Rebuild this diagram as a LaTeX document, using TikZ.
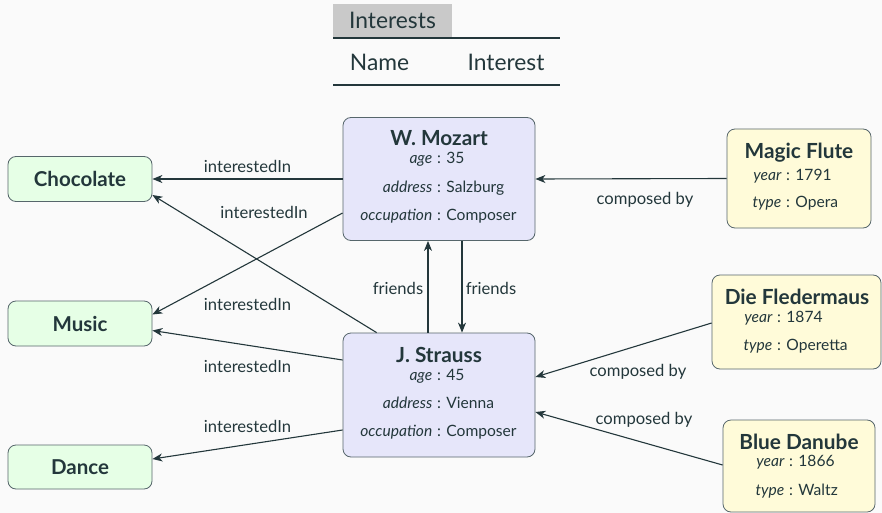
\documentclass[tikz,border=0pt]{standalone}
\usepackage{fontspec}
\setmainfont{Lato}
\usetikzlibrary{arrows.meta,calc}
\definecolor{bg}{HTML}{FAFAFA}
\definecolor{ink}{HTML}{23373B}
\definecolor{edgecol}{HTML}{23373B}
\definecolor{framecol}{HTML}{56666B}
\definecolor{personfill}{HTML}{E6E6FA}
\definecolor{thingfill}{HTML}{E6FFE6}
\definecolor{songfill}{HTML}{FFFBD9}
\definecolor{headfill}{HTML}{C9C9C9}
\newcommand\attrline[5]{%
  \node[attrtxt, anchor=base east] (#1k) at (#2-6.5,#3) {\itshape #4};
  \node[attrtxt, anchor=base west] (#1v) at (#2-2,#3) {: #5};}
\begin{document}
\begin{tikzpicture}[x=1pt,y=-1pt,
  box/.style={draw=framecol, line width=0.8pt, rounded corners=8pt, inner sep=0pt},
  person/.style={box, fill=personfill, minimum width=192pt, minimum height=123pt},
  thing/.style={box, fill=thingfill, minimum width=144pt, minimum height=45pt,
    font=\fontsize{20.5}{24}\selectfont\bfseries, text=ink, text height=15pt, text depth=0pt},
  song/.style={box, fill=songfill},
  titletxt/.style={font=\fontsize{20.8}{24}\selectfont\bfseries, text=ink, inner sep=0pt, anchor=base},
  attrtxt/.style={font=\fontsize{15.6}{18}\selectfont, text=ink, inner sep=0pt},
  lbl/.style={font=\fontsize{16.6}{19}\selectfont, text=ink, inner sep=0pt, anchor=base},
  headtxt/.style={font=\fontsize{22.8}{26}\selectfont, text=ink, inner sep=0pt},
  rule/.style={draw=edgecol, line width=1.6pt},
  conn/.style={draw=edgecol, line width=1.1pt, -{Stealth[length=10pt,width=8pt,inset=3pt]}},
]
\path[use as bounding box, fill=bg] (0,0) rectangle (882,513);

% table
\node[fill=headfill, minimum width=119pt, minimum height=33pt, inner sep=0pt,
  headtxt, text height=16pt, text depth=0pt] (hdr) at (392.5,20.5) {Interests};
\coordinate (r1a) at (333,38); \coordinate (r1b) at (560,38);
\coordinate (r2a) at (333,85); \coordinate (r2b) at (560,85);
\draw[rule] (r1a) -- (r1b);
\draw[rule] (r2a) -- (r2b);
\node[headtxt, anchor=base] (colname) at (379.5,71) {Name};
\node[headtxt, anchor=base] (colint) at (506,71) {Interest};

% persons
\node[person] (mozart) at (439,179) {};
\node[titletxt] (mzt) at (439,146) {W. Mozart};
\attrline{mza}{439}{164}{age}{35}
\attrline{mzb}{439}{192.3}{address}{Salzburg}
\attrline{mzc}{439}{220}{occupation}{Composer}

\node[person, minimum height=124pt] (strauss) at (439,395) {};
\node[titletxt] (stt) at (439,362.3) {J. Strauss};
\attrline{sta}{439}{380}{age}{45}
\attrline{stb}{439}{408.3}{address}{Vienna}
\attrline{stc}{439}{436}{occupation}{Composer}

% interests
\node[thing] (choc) at (80,179) {Chocolate};
\node[thing] (music) at (80,323.5) {Music};
\node[thing, minimum height=44pt] (dance) at (80,467) {Dance};

% songs
\node[song, minimum width=144pt, minimum height=99pt] (flute) at (799,178.5) {};
\node[titletxt] (flt) at (799,159) {Magic Flute};
\attrline{fla}{788}{180}{year}{1791}
\attrline{flb}{788}{207.7}{type}{Opera}

\node[song, minimum width=169pt, minimum height=94pt] (fleder) at (796.5,322) {};
\node[titletxt] (fdt) at (797,304) {Die Fledermaus};
\attrline{fda}{779}{322.7}{year}{1874}
\attrline{fdb}{779}{350.7}{type}{Operetta}

\node[song, minimum width=152pt, minimum height=92pt] (danube) at (799,466) {};
\node[titletxt] (dnt) at (799,449) {Blue Danube};
\attrline{dna}{791}{466.7}{year}{1866}
\attrline{dnb}{791}{495}{type}{Waltz}

% interestedIn edges
\draw[conn] (mozart.west) -- (choc.east)
  node[lbl] (l1) at (247.5,172.5) {interestedIn};
\draw[conn] ($(mozart.west)+(0,34)$) -- ($(music.east)+(0,-9)$)
  node[lbl] (l2) at (264,218) {interestedIn};
\draw[conn] ($(strauss.north west)+(34,0)$) -- ($(choc.east)+(0,16)$)
  node[lbl] (l3) at (247.5,310) {interestedIn};
\draw[conn] ($(strauss.west)+(0,-35)$) -- ($(music.east)+(0,7)$)
  node[lbl] (l4) at (247.5,372) {interestedIn};
\draw[conn] ($(strauss.west)+(0,35)$) -- ($(dance.east)+(0,-8)$)
  node[lbl] (l5) at (247.5,432) {interestedIn};

% friends
\draw[conn] ($(strauss.north)+(-11,0)$) -- ($(mozart.south)+(-11,0)$)
  node[lbl] (f1) at (398,294) {friends};
\draw[conn] ($(mozart.south)+(23,0)$) -- ($(strauss.north)+(23,0)$)
  node[lbl] (f2) at (491,294) {friends};

% composed by
\draw[conn] (flute.west) -- (mozart.east)
  node[lbl] (c1) at (645,204) {composed by};
\draw[conn] ($(fleder.west)+(0,1)$) -- ($(strauss.east)+(0,-18)$)
  node[lbl] (c2) at (638,376.7) {composed by};
\draw[conn] ($(danube.west)+(0,-1)$) -- ($(strauss.east)+(0,17)$)
  node[lbl] (c3) at (644,424) {composed by};
\end{tikzpicture}
\end{document}
